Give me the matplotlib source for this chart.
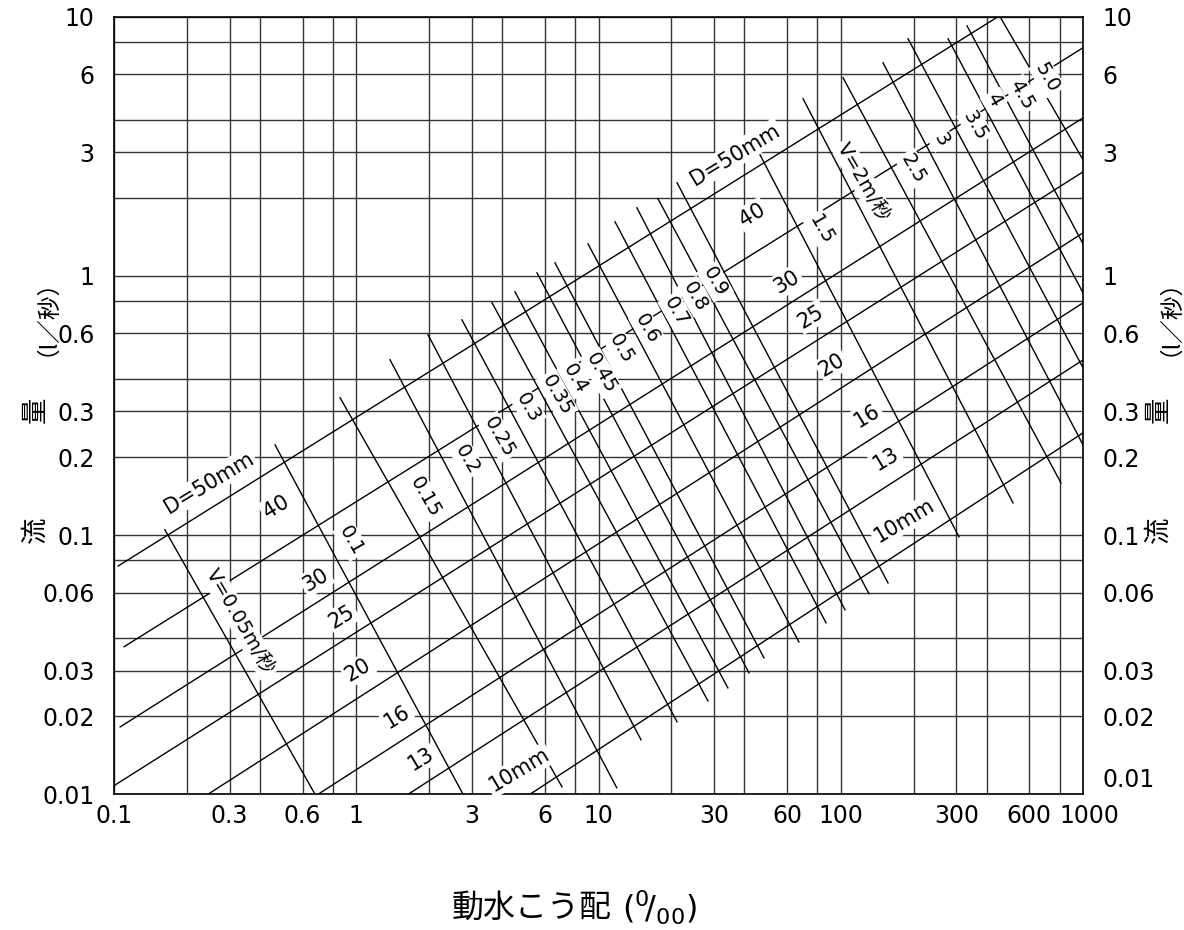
import matplotlib
matplotlib.use('Agg')
import matplotlib.pyplot as plt
from matplotlib.transforms import ScaledTranslation

plt.rcParams['font.family'] = ['DejaVu Sans', 'Noto Sans CJK JP']

# 目盛り・グリッド
x_major = [0.1, 0.3, 0.6, 1, 3, 6, 10, 30, 60, 100, 300, 600, 1000]
x_major_labels = ['0.1', '0.3', '0.6', '1', '3', '6', '10', '30', '60', '100', '300', '600', '1000']
x_minor = [0.2, 0.4, 0.8, 2, 4, 8, 20, 40, 80, 200, 400, 800]
y_major = [0.01, 0.02, 0.03, 0.06, 0.1, 0.2, 0.3, 0.6, 1, 3, 6, 10]
y_major_labels = ['0.01', '0.02', '0.03', '0.06', '0.1', '0.2', '0.3', '0.6', '1', '3', '6', '10']
y_minor = [0.04, 0.08, 0.4, 0.8, 2, 4, 8]

# 口径の線 (動水こう配, 流量) 始点と終点
d_sizes = ['50', '40', '30', '25', '20', '16', '13', '10']
d_i_start = [0.104, 0.110, 0.106, 0.101, 0.244, 0.695, 1.636, 5.21]
d_q_start = [0.0760, 0.0371, 0.0182, 0.01086, 0.01, 0.01, 0.01, 0.01]
d_i_end = [445.6, 1000, 1000, 1000, 1000, 1000, 1000, 1000]
d_q_end = [10, 7.59, 4.07, 2.52, 1.466, 0.787, 0.474, 0.248]

# 流速の線
v_values = [0.05, 0.1, 0.15, 0.2, 0.25, 0.3, 0.35, 0.4, 0.45, 0.5, 0.6, 0.7,
            0.8, 0.9, 1.0, 1.5, 2.0, 2.5, 3.0, 3.5, 4.0, 4.5, 5.0]
v_i_start = [0.162, 0.462, 0.857, 1.378, 1.978, 2.73, 3.634, 4.52, 5.57, 6.61, 9.05, 11.7,
             14.4, 17.6, 21.1, 46.4, 69.9, 102.2, 149.4, 189.5, 277.2, 332, 454.4]
v_q_start = [0.105, 0.223, 0.339, 0.475, 0.593, 0.677, 0.788, 0.869, 1.028, 1.124, 1.33, 1.618,
             1.832, 1.985, 2.288, 2.935, 4.826, 5.815, 6.645, 8.225, 8.225, 9.23, 10]
v_i_end = [0.676, 2.76, 7.07, 11.9, 14.98, 21.1, 28.3, 34.2, 41.8, 48.2, 67.2, 86.9,
           104.1, 130.8, 156.7, 307.7, 514, 811, 1000, 1000, 1000, 1000, 1000]
v_q_end = [0.01, 0.01, 0.01068, 0.01059, 0.01622, 0.01903, 0.02293, 0.02574, 0.02941, 0.0336, 0.0387, 0.0459,
           0.0515, 0.0594, 0.0654, 0.0985, 0.1332, 0.159, 0.223, 0.442, 0.861, 1.33, 2.808]

# 流速のラベル
v_label_text = ['V=0.05m/秒', '0.1', '0.15', '0.2', '0.25', '0.3', '0.35', '0.4', '0.45', '0.5', '0.6',
                '0.7', '0.8', '0.9', '1.5', 'V=2m/秒', '2.5', '3', '3.5', '4', '4.5', '5.0']
v_label_i = [0.331, 0.951, 1.922, 2.866, 3.884, 5.117, 6.742, 8.0, 10.24, 12.39, 15.86,
             20.89, 25.03, 30.27, 82.9, 123.6, 198.8, 259.4, 358.3, 429.1, 560, 710.2]
v_label_q = [0.0463, 0.095, 0.1405, 0.1952, 0.2394, 0.3098, 0.3478, 0.4009, 0.4229, 0.5234, 0.6252,
             0.727, 0.831, 0.949, 1.507, 2.308, 2.591, 3.352, 3.796, 4.783, 5.0, 5.815]

# 口径のラベル (上と下)
d_label_text = ['D=50mm', '40', '30', '25', '20', '16', '13', '10mm']
d_upper_i = [36.6, 43.0, 60.0, 75.4, 92.0, 128.3, 153.8, 182.4]
d_upper_q = [2.935, 1.722, 0.949, 0.696, 0.454, 0.2886, 0.197, 0.1135]
d_lower_i = [0.2467, 0.4663, 0.6821, 0.8734, 1.017, 1.473, 1.851, 4.697]
d_lower_q = [0.159, 0.1285, 0.0672, 0.0484, 0.0302, 0.0199, 0.0137, 0.0124]

fig = plt.figure(figsize=(11.84, 9.3), dpi=100)
ax = fig.add_axes([0.0963, 0.1459, 0.8184, 0.8361])
ax.set_xscale('log')
ax.set_yscale('log')
ax.set_xlim(0.1, 1000)
ax.set_ylim(0.01, 10)

ax.set_xticks(x_major)
ax.set_xticklabels(x_major_labels)
ax.set_xticks(x_minor, minor=True)
ax.set_xticklabels([], minor=True)
ax.set_yticks(y_major)
ax.set_yticklabels(y_major_labels)
ax.set_yticks(y_minor, minor=True)
ax.set_yticklabels([], minor=True)
ax.tick_params(which='both', length=0, labelsize=17)
ax.tick_params(axis='y', which='major', labelright=True, pad=14)
ax.tick_params(axis='x', which='major', pad=7)
ax.grid(True, which='both', color='#333333', linewidth=1.0)
for s in ax.spines.values():
    s.set_linewidth(1.2)

# 右側の 0.01 は少し上に
for t in ax.yaxis.get_major_ticks():
    if t.get_loc() == 0.01:
        t.label2.set_transform(t.label2.get_transform()
                               + ScaledTranslation(0, 0.17, fig.dpi_scale_trans))
# 1000 は少し右に (600 と重ならないように)
for t in ax.xaxis.get_major_ticks():
    if t.get_loc() == 1000:
        t.label1.set_transform(t.label1.get_transform()
                               + ScaledTranslation(0.06, 0, fig.dpi_scale_trans))

# 口径の線
for i in range(len(d_sizes)):
    ax.plot([d_i_start[i], d_i_end[i]], [d_q_start[i], d_q_end[i]],
            color='black', linewidth=1.0, zorder=3)

# 流速の線
for i in range(len(v_values)):
    ax.plot([v_i_start[i], v_i_end[i]], [v_q_start[i], v_q_end[i]],
            color='black', linewidth=1.0, zorder=3)

box = dict(facecolor='white', edgecolor='none', pad=1.5)

for txt, xi, yq in zip(v_label_text, v_label_i, v_label_q):
    ax.text(xi, yq, txt, rotation=-60, rotation_mode='anchor', ha='center', va='center',
            fontsize=14, bbox=box, zorder=5)

for txt, xi, yq in zip(d_label_text, d_upper_i, d_upper_q):
    ax.text(xi, yq, txt, rotation=31, rotation_mode='anchor', ha='center', va='center',
            fontsize=15, bbox=box, zorder=5)
for txt, xi, yq in zip(d_label_text, d_lower_i, d_lower_q):
    ax.text(xi, yq, txt, rotation=31, rotation_mode='anchor', ha='center', va='center',
            fontsize=15, bbox=box, zorder=5)

# 縦軸の見出し (左右)
cjk = ['Noto Sans CJK JP', 'DejaVu Sans']
for xf in [35 / 1184, 1158 / 1184]:
    fig.text(xf, 1 - 530 / 930, '流', rotation=90, ha='center', va='center', fontsize=19, family=cjk)
    fig.text(xf, 1 - 410 / 930, '量', rotation=90, ha='center', va='center', fontsize=19, family=cjk)
    fig.text(xf, 1 - 305 / 930, '（l／秒）', rotation=90, ha='center', va='center', fontsize=17, family=cjk)

# 横軸の見出し
fig.text(612 / 1184, 1 - 908 / 930, '動水こう配', ha='right', va='center', fontsize=23, family=cjk)
fig.text(622 / 1184, 1 - 908 / 930, r'($^{0}\!/_{00}$)', ha='left', va='center', fontsize=23)

fig.savefig('out.png', dpi=100)
plt.close(fig)
